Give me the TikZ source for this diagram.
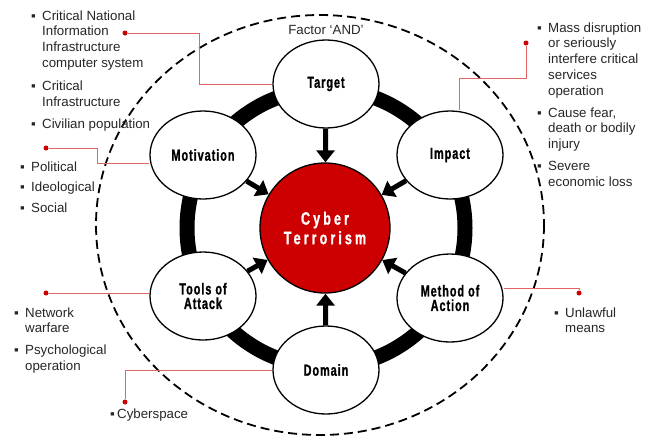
\documentclass[tikz,border=0pt]{standalone}
\usepackage{fontspec}
\setmainfont{Liberation Sans}
\newfontfamily\headfont[FakeStretch=0.68,LetterSpace=6,FakeBold=1]{Liberation Sans}
\newfontfamily\corefont[FakeStretch=0.7,LetterSpace=17,FakeBold=1]{Liberation Sans}
\usetikzlibrary{arrows.meta,shapes.geometric}
\definecolor{cyberred}{HTML}{CC0000}
\definecolor{linkred}{HTML}{E06666}
\newcommand\bul[1][10pt]{\makebox[#1][l]{▪}}
\tikzset{
  outer/.style={line width=1.8pt, dash pattern=on 9pt off 5pt},
  ring/.style={line width=15pt},
  factor/.style={ellipse, draw, line width=1.3pt, fill=white,
    minimum width=106pt, minimum height=88pt, inner sep=0pt, align=center,
    font=\headfont\bfseries\fontsize{16}{14.5}\selectfont},
  core/.style={circle, draw, line width=1.3pt, fill=cyberred, text=white,
    minimum size=130pt, align=center,
    font=\corefont\bfseries\fontsize{18}{19.5}\selectfont},
  push/.style={line width=5pt, -{Triangle[width=18pt,length=12pt]}},
  link/.style={linkred, line width=0.9pt},
  dot/.style={circle, fill=cyberred, inner sep=0pt, minimum size=5pt},
  items/.style={anchor=base west, inner sep=0pt, text=black!85,
    font=\fontsize{13.3}{15.8}\selectfont}
}
\begin{document}
\begin{tikzpicture}[x=1pt, y=-1pt]
  \useasboundingbox (0,0) rectangle (648,437);
  \draw[outer] (320,225) ellipse [x radius=224, y radius=210];
  \draw[ring] (326,228) circle [radius=139];
  \node[core] (core) at (325,228) {Cyber\\Terrorism};
  \foreach \nm/\px/\py/\txt in {target/326/84/Target, impact/450/155/Impact,
      method/450/298/Method of\\Action, domain/326/370/Domain,
      tools/203/296/Tools of\\Attack, motivation/203/155/Motivation}
    \node[factor] (\nm) at (\px,\py) {\txt};
  \foreach \nm in {target,impact,method,domain,tools,motivation}
    \draw[push] (\nm) -- (core);
  \node[font=\fontsize{13.3}{15}\selectfont, text=black!85] (andlabel) at (326,30) {Factor ‘AND’};

  \node[dot] (tdot) at (125,33) {};
  \coordinate (tbend) at (199,84);
  \draw[link] (tdot) -| (tbend) -- (target.west);
  \node[dot] (idot) at (526,43) {};
  \coordinate (ibend) at (459,78);
  \draw[link] (idot) |- (ibend) -- (ibend |- impact.north);
  \node[dot] (mdot) at (46,148) {};
  \coordinate (mbend) at (97,163);
  \draw[link] (mdot) -| (mbend) -- (mbend -| motivation.west);
  \node[dot] (adot) at (46,293) {};
  \draw[link] (adot) -- (adot -| tools.west);
  \node[dot] (ddot) at (125,402) {};
  \draw[link] (ddot) |- (domain.west);
  \node[dot] (odot) at (579,293) {};
  \coordinate (obend) at (579,288);
  \draw[link] (odot) -- (obend) -- (obend -| method.east);

  \node[items] (targetlist) at (31,20) {\begin{tabular}[t]{@{}l@{}l@{}}
    \bul[11pt] & Critical National\\ & Information\\ & Infrastructure\\ & computer system\\[7pt]
    \bul[11pt] & Critical\\ & Infrastructure\\[7pt]
    \bul[11pt] & Civilian population\end{tabular}};
  \node[items] (impactlist) at (537,32) {\begin{tabular}[t]{@{}l@{}l@{}}
    \bul[11pt] & Mass disruption\\ & or seriously\\ & interfere critical\\ & services\\ & operation\\[6pt]
    \bul[11pt] & Cause fear,\\ & death or bodily\\ & injury\\[6pt]
    \bul[11pt] & Severe\\ & economic loss\end{tabular}};
  \node[items] (motivationlist) at (20,171) {\begin{tabular}[t]{@{}l@{}l@{}}
    \bul[11pt] & Political\\[5pt] \bul[11pt] & Ideological\\[5pt] \bul[11pt] & Social\end{tabular}};
  \node[items] (toolslist) at (14,317) {\begin{tabular}[t]{@{}l@{}l@{}}
    \bul[11pt] & Network\\ & warfare\\[6pt]
    \bul[11pt] & Psychological\\ & operation\end{tabular}};
  \node[items] (domainlist) at (110,418) {\bul[7pt]Cyberspace};
  \node[items] (methodlist) at (554,317) {\begin{tabular}[t]{@{}l@{}l@{}}
    \bul[11pt] & Unlawful\\ & means\end{tabular}};
\end{tikzpicture}
\end{document}
